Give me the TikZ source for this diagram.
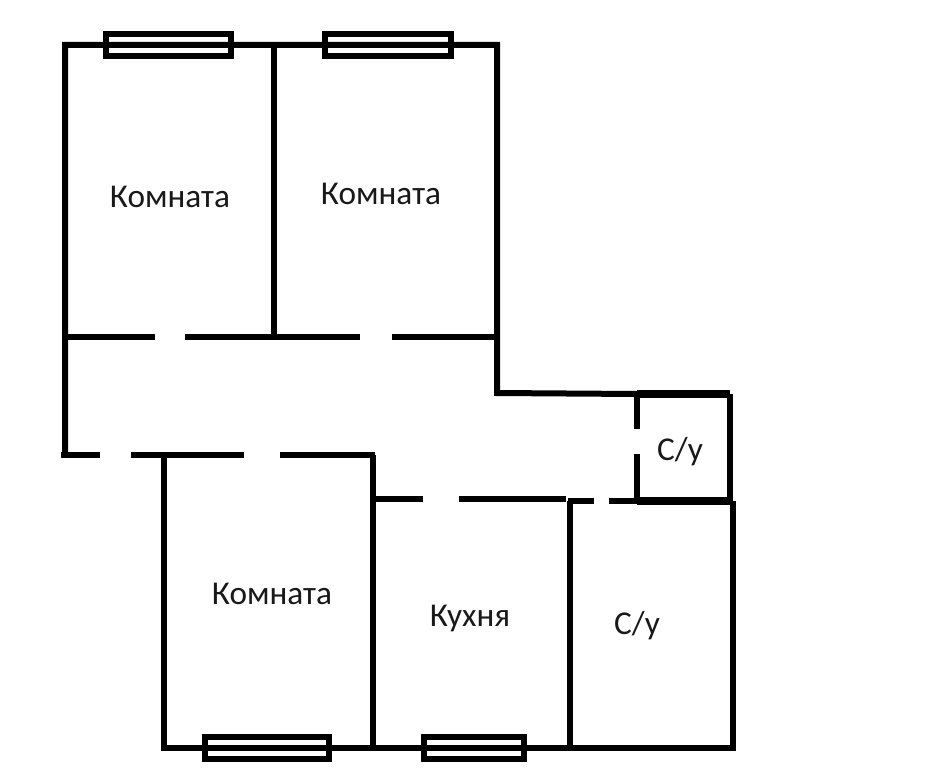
\documentclass[tikz,border=0pt]{standalone}
\usepackage{fontspec}
\setmainfont{Carlito}
\tikzset{
  wall/.style={line width=6pt,line cap=butt},
  thickwall/.style={line width=7.5pt},
  window/.style={line width=6.5pt,draw=black},
  roomlabel/.style={font=\fontsize{33.3}{35}\selectfont,text=black!90,inner sep=0pt}
}

\begin{document}
\begin{tikzpicture}[x=1pt,y=-1pt]
\useasboundingbox (0,0) rectangle (939,768);
\coordinate (topleft) at (65,45);
\coordinate (topmid) at (274,45);
\coordinate (topright) at (497,45);
\coordinate (hallleft) at (65,337);
\coordinate (hallmid) at (274,337);
\coordinate (hallright) at (497,337);
\coordinate (corner) at (497,393);
\coordinate (wcleft) at (637,394);
\coordinate (wcright) at (730,394);
\coordinate (wcbase) at (637,501);
\coordinate (wcbaseright) at (733,501);
\coordinate (lowleft) at (65,455);
\coordinate (bedleft) at (164,455);
\coordinate (bedright) at (373,455);
\coordinate (kitchenleft) at (373,499);
\coordinate (bathleft) at (570,501);
\coordinate (baseleft) at (164,748);
\coordinate (basemid) at (373,748);
\coordinate (basebath) at (570,748);
\coordinate (baseright) at (733,748);

% outer walls
\draw[wall] (lowleft)--(topleft)--(topright)--(corner)--(wcleft);
\draw[wall] (topmid)--(hallmid);
\draw[thickwall] (wcleft)--(wcright);
\draw[wall] (wcright)--(730,501);
\draw[thickwall] (wcbase)--(wcbaseright);
\draw[wall] (wcbaseright)--(baseright);
\draw[wall] (161,748)--(736,748);
\draw[wall] (bedleft)--(baseleft);
\draw[wall] (bedright)--(basemid);
\draw[wall] (bathleft)--(basebath);

% walls with door gaps
\draw[wall] (hallleft)--(155,337);
\draw[wall] (185,337)--(360,337);
\draw[wall] (392,337)--(hallright);
\draw[wall] (61,455)--(100,455);
\draw[wall] (131,455)--(244,455);
\draw[wall] (280,455)--(375,455);
\draw[wall] (kitchenleft)--(423,499);
\draw[wall] (459,499)--(566,499);
\draw[wall] (568,501)--(594,501);
\draw[wall] (609,501)--(wcbase);
\draw[wall] (wcleft)--(637,429);
\draw[wall] (637,454)--(wcbase);

% windows
\foreach \xa/\xb/\yc in {106/231/45,325/451/45,205/329/748,424/524/748}
\draw[window] (\xa,\yc-11) rectangle (\xb,\yc+11);

\node[roomlabel] (room1) at (170,197) {Комната};
\node[roomlabel] (room2) at (381,194) {Комната};
\node[roomlabel] (room3) at (272,594) {Комната};
\node[roomlabel] (kitchen) at (470,618) {Кухня};
\node[roomlabel] (wc1) at (680,452) {С/у};
\node[roomlabel] (wc2) at (637,626) {С/у};

\end{tikzpicture}
\end{document}
